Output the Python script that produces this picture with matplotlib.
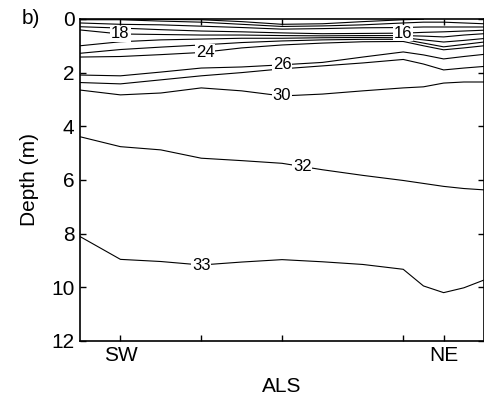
import numpy as np
import matplotlib.pyplot as plt

plt.rcParams['font.family'] = ['Liberation Sans', 'DejaVu Sans']

# station positions along the section (SW -> NE)
x_grid = [0, 1, 2, 3, 4, 5, 6, 7, 8, 8.5, 9, 9.5, 10]
station_x = [1, 3, 5, 8, 9]
station_labels = ['SW', '', '', '', 'NE']

# depth (m) of each isohaline at x_grid
depth_10 = [np.nan, 0.01, 0.02, 0.03, 0.1, 0.2, 0.18, 0.1, 0.03, 0.01, np.nan, np.nan, np.nan]
depth_12 = [0.03, 0.03, 0.08, 0.12, 0.2, 0.28, 0.26, 0.22, 0.15, 0.12, 0.12, 0.15, 0.18]
depth_14 = [0.15, 0.2, 0.22, 0.27, 0.32, 0.38, 0.36, 0.33, 0.32, 0.3, 0.3, 0.3, 0.3]
depth_16 = [0.29, 0.34, 0.4, 0.45, 0.48, 0.52, 0.55, 0.54, 0.53, 0.5, 0.48, 0.45, 0.42]
depth_18 = [0.41, 0.56, 0.58, 0.6, 0.6, 0.62, 0.63, 0.62, 0.62, 0.64, 0.67, 0.6, 0.55]
depth_20 = [1.0, 0.85, 0.78, 0.75, 0.72, 0.72, 0.7, 0.69, 0.7, 0.78, 0.86, 0.8, 0.73]
depth_22 = [1.28, 1.14, 1.05, 0.97, 0.88, 0.82, 0.78, 0.76, 0.76, 0.9, 1.04, 0.95, 0.86]
depth_24 = [1.42, 1.4, 1.33, 1.25, 1.08, 0.97, 0.9, 0.85, 0.84, 1.0, 1.15, 1.08, 1.0]
depth_26 = [2.09, 2.12, 1.98, 1.83, 1.79, 1.71, 1.62, 1.42, 1.23, 1.34, 1.49, 1.4, 1.32]
depth_28 = [2.37, 2.42, 2.27, 2.12, 2.0, 1.86, 1.75, 1.64, 1.51, 1.68, 1.9, 1.83, 1.77]
depth_30 = [2.65, 2.83, 2.76, 2.57, 2.68, 2.87, 2.8, 2.68, 2.57, 2.53, 2.39, 2.35, 2.35]
depth_32 = [4.39, 4.76, 4.88, 5.19, 5.28, 5.38, 5.62, 5.83, 6.02, 6.13, 6.24, 6.32, 6.37]
depth_33 = [8.11, 8.96, 9.04, 9.17, 9.06, 8.97, 9.05, 9.15, 9.33, 9.95, 10.2, 10.02, 9.73]

levels = [10, 12, 14, 16, 18, 20, 22, 24, 26, 28, 30, 32, 33]
isolines = [depth_10, depth_12, depth_14, depth_16, depth_18, depth_20, depth_22,
            depth_24, depth_26, depth_28, depth_30, depth_32, depth_33]

# inline labels: which level, and where along the section
label_levels = [18, 16, 24, 26, 30, 32, 33]
label_x = [1.0, 8.0, 3.1, 5.0, 5.0, 5.5, 3.0]

fig = plt.figure(figsize=(4.85, 4.03), dpi=100)
ax = fig.add_axes([0.165, 0.154, 0.833, 0.799])

for lev, d in zip(levels, isolines):
    ax.plot(x_grid, d, color='black', linewidth=0.8, zorder=2)

for lev, lx in zip(label_levels, label_x):
    d = np.array(isolines[levels.index(lev)], dtype=float)
    ok = ~np.isnan(d)
    ly = np.interp(lx, np.array(x_grid)[ok], d[ok])
    ax.text(lx, ly, str(lev), ha='center', va='center', fontsize=12, zorder=3,
            bbox=dict(boxstyle='square,pad=0.05', fc='white', ec='none'))

ax.set_xlim(0, 10)
ax.set_ylim(12, 0)
ax.set_yticks(range(0, 13, 2))
ax.set_xticks(station_x)
ax.set_xticklabels(station_labels)
ax.tick_params(direction='in', length=4, width=1, top=True, right=True,
               labelsize=15, pad=4)
for s in ax.spines.values():
    s.set_linewidth(1.2)

ax.set_xlabel('ALS', fontsize=15, labelpad=8)
ax.set_ylabel('Depth (m)', fontsize=15, labelpad=9)
fig.text(0.045, 0.955, 'b)', fontsize=15, va='center')

fig.savefig('out.png', dpi=100)
